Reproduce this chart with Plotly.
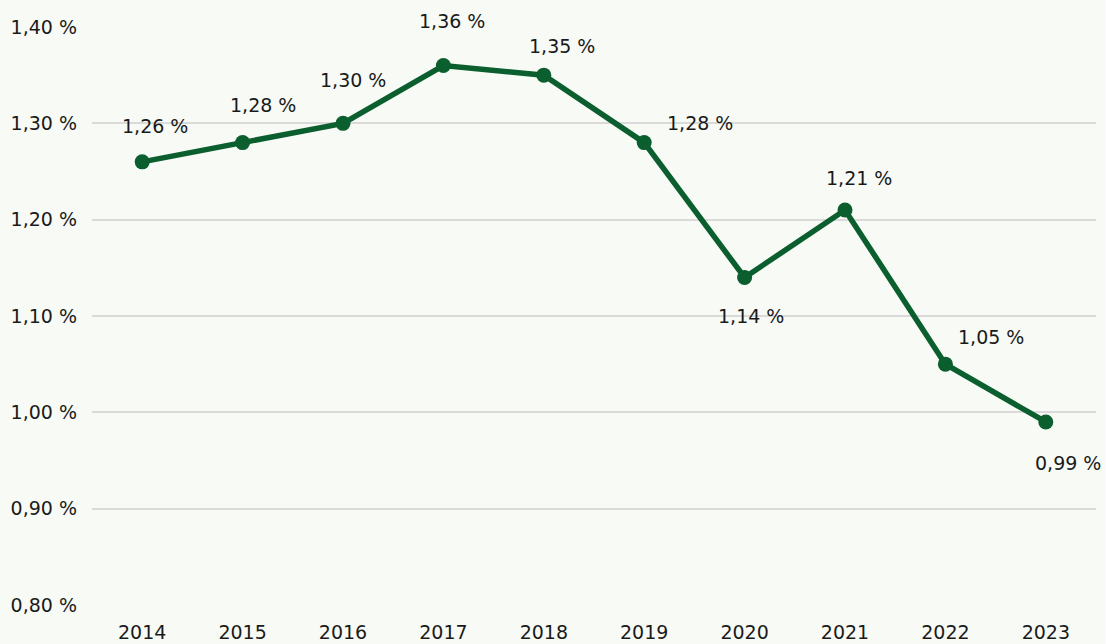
import plotly.graph_objects as go

years = ["2014", "2015", "2016", "2017", "2018", "2019", "2020", "2021", "2022", "2023"]
values = [1.26, 1.28, 1.30, 1.36, 1.35, 1.28, 1.14, 1.21, 1.05, 0.99]
labels = ["1,26 %", "1,28 %", "1,30 %", "1,36 %", "1,35 %", "1,28 %", "1,14 %", "1,21 %", "1,05 %", "0,99 %"]
y_ticks = [0.8, 0.9, 1.0, 1.1, 1.2, 1.3, 1.4]
y_tick_labels = ["0,80 %", "0,90 %", "1,00 %", "1,10 %", "1,20 %", "1,30 %", "1,40 %"]

# label offsets in pixels (style)
label_dx = [13, 20, 10, 9, 18, 56, 6, 14, 46, 22]
label_dy = [36, 38, 43, 45, 29, 20, -39, 32, 27, -41]

GREEN = "#0b5e2d"
FONT = "DejaVu Sans"
TXT = "#1a1a1a"

fig = go.Figure()
fig.add_trace(go.Scatter(
    x=years, y=values, mode="lines+markers",
    line=dict(color=GREEN, width=5.5),
    marker=dict(color=GREEN, size=15),
    hoverinfo="skip", showlegend=False,
))

annotations = []
for i, (yv, t, dx, dy) in enumerate(zip(values, labels, label_dx, label_dy)):
    annotations.append(dict(
        xref="x", yref="y", x=i, y=yv, text=t, showarrow=False,
        xshift=dx, yshift=dy, xanchor="center", yanchor="middle",
        font=dict(family=FONT, size=19, color=TXT),
    ))

fig.update_layout(
    width=1106, height=644,
    margin=dict(l=92, r=10, t=27, b=39),
    paper_bgcolor="#f8faf6", plot_bgcolor="#f8faf6",
    font=dict(family=FONT, size=19, color=TXT),
    annotations=annotations,
    xaxis=dict(type="category", range=[-0.5, 9.5], showgrid=False, zeroline=False,
               showline=False, ticks="", ticklabelstandoff=14, automargin=False,
               tickfont=dict(size=19)),
    yaxis=dict(range=[0.8, 1.4], tickvals=y_ticks, ticktext=y_tick_labels,
               showgrid=True, gridcolor="#dadada", gridwidth=2, zeroline=False,
               showline=False, ticks="", ticklabelstandoff=14, automargin=False,
               tickfont=dict(size=19)),
)

fig.write_html("out.html", config={"displayModeBar": False},
               post_script="document.body.style.margin='0';")
